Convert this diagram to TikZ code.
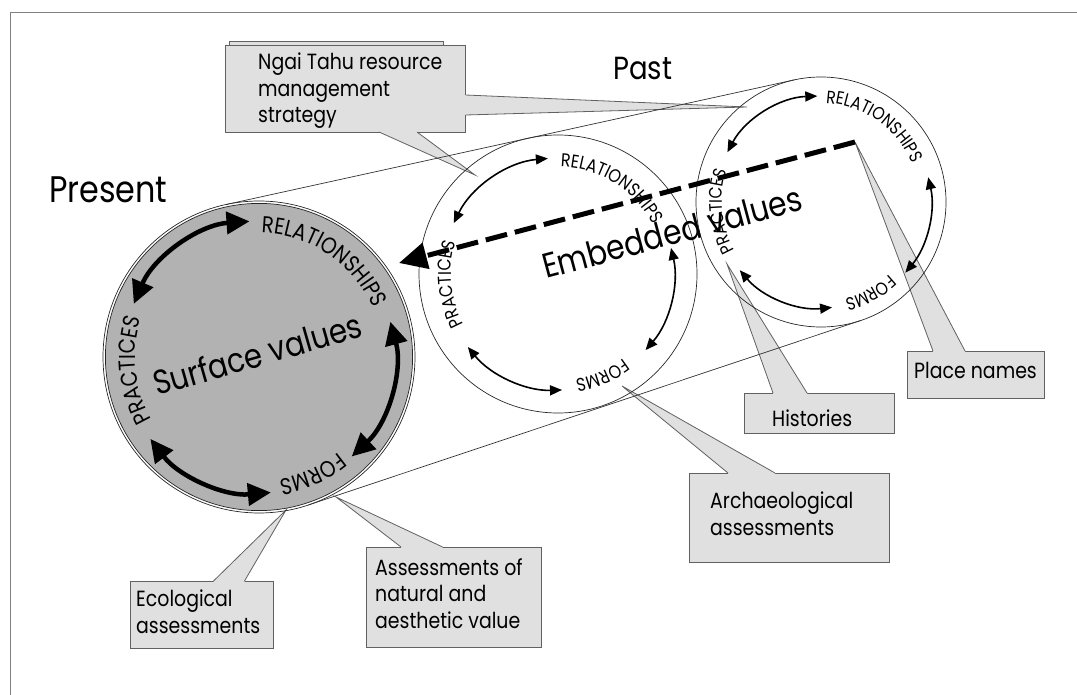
\documentclass[tikz,border=0pt]{standalone}
\usepackage{fontspec}
\setmainfont{Poppins}[FakeStretch=0.86]
\usetikzlibrary{arrows.meta,decorations.text,calc}
\definecolor{calfill}{gray}{0.88}
\definecolor{calline}{gray}{0.38}
\definecolor{presfill}{gray}{0.70}
\definecolor{framec}{gray}{0.5}
\newcommand\fpres{\fontsize{23}{23}\selectfont}
\newcommand\fmid{\fontsize{18.5}{18.5}\selectfont}
\newcommand\ffar{\fontsize{18}{18}\selectfont}
\newcommand\calpointer[4]{%
  \fill[calfill] ($(#1)+(#4)$) -- (#1) -- (#3) -- (#2) -- ($(#2)+(#4)$) -- cycle;
  \draw[calline, line width=0.8pt] (#1) -- (#3) -- (#2);}
\begin{document}
\begin{tikzpicture}[x=1pt,y=1pt,
  calbox/.style={rectangle, fill=calfill, draw=calline, line width=0.8pt, inner sep=0pt, outer sep=0pt, anchor=north west},
  callabel/.style={anchor=base west, align=left, inner sep=0pt, font=\fontsize{22}{26.5}\selectfont},
  ring/.style={circle, draw=black!85, line width=0.7pt, inner sep=0pt, outer sep=0pt},
  bigarrow/.style={line width=4.5pt, {Triangle[length=23pt,width=22pt]}-{Triangle[length=23pt,width=22pt]}},
  smallarrow/.style={line width=1.6pt, {Triangle[length=12pt,width=10pt]}-{Triangle[length=12pt,width=10pt]}},
  tangent/.style={draw=black!80, line width=0.7pt}]
\useasboundingbox (0,0) rectangle (1077,-695);
\draw[framec, line width=1pt] (1077,-13) -- (10,-13) -- (10,-695);

% ---------- callouts ----------
\filldraw[fill=calfill, draw=calline, line width=0.8pt] (229,-41.5) rectangle (443,-45);
\node[calbox, minimum width=240, minimum height=87] (ngai) at (225.6,-45) {};
\coordinate (ngaiB1) at (379,-132); \coordinate (ngaiB2) at (417,-132);
\coordinate (ngaiT1) at (475,-175);
\coordinate (ngaiR1) at (465.6,-95); \coordinate (ngaiR2) at (465.6,-115);
\coordinate (ngaiT2) at (747,-107);
\calpointer{ngaiB1}{ngaiB2}{ngaiT1}{0,1.5}
\calpointer{ngaiR1}{ngaiR2}{ngaiT2}{-1.5,0}
\node[callabel] (ngaitext) at (258,-123) {Ngai Tahu resource\\management\\strategy};

\node[calbox, minimum width=143, minimum height=67] (eco) at (130,-581) {};
\coordinate (ecoB1) at (213.5,-581); \coordinate (ecoB2) at (244.5,-581);
\coordinate (ecoT) at (286,-510);
\calpointer{ecoB1}{ecoB2}{ecoT}{0,-1.5}
\node[callabel] (ecotext) at (136,-633) {Ecological\\assessments};

\node[calbox, minimum width=175.6, minimum height=100] (nat) at (366,-547) {};
\coordinate (natB1) at (401,-547); \coordinate (natB2) at (442.6,-547);
\coordinate (natT) at (336,-497);
\calpointer{natB1}{natB2}{natT}{0,-1.5}
\node[callabel] (nattext) at (375,-628) {Assessments of\\natural and\\aesthetic value};

\node[calbox, minimum width=200, minimum height=89] (arch) at (689,-473) {};
\coordinate (archB1) at (728,-473); \coordinate (archB2) at (775,-473);
\coordinate (archT) at (622,-386);
\calpointer{archB1}{archB2}{archT}{0,-1.5}
\node[callabel] (archtext) at (710,-535) {Archaeological\\assessments};

\node[calbox, minimum width=150, minimum height=40] (hist) at (744,-393) {};
\coordinate (histB1) at (773,-393); \coordinate (histB2) at (807,-393);
\coordinate (histT) at (727,-264);
\calpointer{histB1}{histB2}{histT}{0,-1.5}
\node[callabel] (histtext) at (772,-426) {Histories};

\node[calbox, minimum width=137, minimum height=47] (place) at (907,-351) {};
\coordinate (placeB1) at (933,-351); \coordinate (placeB2) at (965,-351);
\coordinate (placeT) at (855,-142);
\calpointer{placeB1}{placeB2}{placeT}{0,-1.5}
\node[callabel] (placetext) at (914,-378) {Place names};

% ---------- circles ----------
\node[ring, minimum size=312] (present) at (259,-357) {};
\draw[fill=presfill, draw=black!85, line width=0.7pt] (present.center) circle[radius=153.6];
\node[ring, minimum size=278] (embedded) at (558,-274) {};
\node[ring, minimum size=250] (past) at (821,-202) {};

\draw[tangent] ($(present.center)+(102.37:156)$) -- ($(past.center)+(102.37:125)$);
\draw[tangent] ($(present.center)+(-71.53:156)$) -- ($(past.center)+(-71.53:125)$);

% ---------- present circle contents ----------
\draw[bigarrow] ($(present.center)+(157:136)$) arc[start angle=157, end angle=94, radius=136];
\draw[bigarrow] ($(present.center)+(15:136)$) arc[start angle=15, end angle=-47, radius=136];
\draw[bigarrow] ($(present.center)+(217:136)$) arc[start angle=217, end angle=275, radius=136];
\path[decorate, decoration={text along path, text align=center, text={|\fpres|RELATIONSHIPS}}]
  ($(present.center)+(93:124)$) arc[start angle=93, end angle=19, radius=124];
\path[decorate, decoration={text along path, text align=center, text={|\fpres|PRACTICES}}]
  ($(present.center)+(212:124)$) arc[start angle=212, end angle=160, radius=124];
\path[decorate, decoration={text along path, text align=center, text={|\fpres|FORMS}}]
  ($(present.center)+(-46:124)$) arc[start angle=-46, end angle=-85, radius=124];

% ---------- middle circle contents ----------
\draw[smallarrow] ($(embedded.center)+(154:116)$) arc[start angle=154, end angle=95, radius=116];
\draw[smallarrow] ($(embedded.center)+(13:116)$) arc[start angle=13, end angle=-41, radius=116];
\draw[smallarrow] ($(embedded.center)+(219:116)$) arc[start angle=219, end angle=272, radius=116];
\path[decorate, decoration={text along path, text align=center, text={|\fmid|RELATIONSHIPS}}]
  ($(embedded.center)+(92:107)$) arc[start angle=92, end angle=24, radius=107];
\path[decorate, decoration={text along path, text align=center, text={|\fmid|PRACTICES}}]
  ($(embedded.center)+(213:107)$) arc[start angle=213, end angle=158, radius=107];
\path[decorate, decoration={text along path, text align=center, text={|\fmid|FORMS}}]
  ($(embedded.center)+(-48:107)$) arc[start angle=-48, end angle=-85, radius=107];

% ---------- far circle contents ----------
\draw[smallarrow] ($(past.center)+(152:106)$) arc[start angle=152, end angle=92, radius=106];
\draw[smallarrow] ($(past.center)+(13:110)$) arc[start angle=13, end angle=-40, radius=110];
\draw[smallarrow] ($(past.center)+(220:106)$) arc[start angle=220, end angle=276, radius=106];
\path[decorate, decoration={text along path, text align=center, text={|\ffar|RELATIONSHIPS}}]
  ($(past.center)+(92:99)$) arc[start angle=92, end angle=18, radius=99];
\path[decorate, decoration={text along path, text align=center, text={|\ffar|PRACTICES}}]
  ($(past.center)+(213:99)$) arc[start angle=213, end angle=158, radius=99];
\path[decorate, decoration={text along path, text align=center, text={|\ffar|FORMS}}]
  ($(past.center)+(-42:100)$) arc[start angle=-42, end angle=-81, radius=100];

% ---------- labels ----------
\node[anchor=base west, inner sep=0pt, font=\fontsize{37}{37}\selectfont] (lpresent) at (49,-203) {Present};
\node[anchor=base west, inner sep=0pt, font=\fontsize{32}{32}\selectfont] (lpast) at (613,-80) {Past};
\node[anchor=base west, inner sep=0pt, rotate=16, font=\fontsize{34}{34}\selectfont] (lsurface) at (157,-396) {Surface values};
\node[anchor=base west, inner sep=0pt, rotate=15, font=\fontsize{34.5}{34.5}\selectfont] (lembedded) at (546,-279) {Embedded values};

% ---------- dashed arrow ----------
\coordinate (dashT) at (399,-263);
\draw[line width=5pt, dash pattern=on 22pt off 8pt, -{Triangle[length=28pt,width=26pt]}] (placeT) -- (dashT);
\end{tikzpicture}
\end{document}
